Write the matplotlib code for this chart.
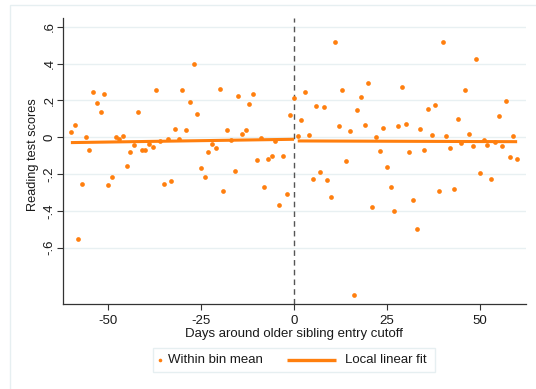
import matplotlib
matplotlib.use("Agg")
import matplotlib.pyplot as plt
from matplotlib.patches import Rectangle
from matplotlib.lines import Line2D

plt.rcParams['font.family'] = ['Liberation Sans', 'DejaVu Sans']

# Days relative to the older sibling's entry cutoff (one bin per day)
days = list(range(-60, 61))

# Within-bin mean reading test scores, days -60 .. 60
bin_means = [
    0.029, 0.069, -0.553, -0.252, 0.000, -0.067, 0.245, 0.188, 0.136, 0.237,   # -60..-51
    -0.258, -0.217, 0.000, -0.011, 0.007, -0.158, -0.082, -0.040, 0.136, -0.069,  # -50..-41
    -0.069, -0.036, -0.054, 0.255, -0.018, -0.256, -0.009, -0.236, 0.045, -0.011,  # -40..-31
    0.255, 0.040, 0.194, 0.398, 0.128, -0.165, -0.217, -0.082, -0.035, -0.058,     # -30..-21
    0.261, -0.292, 0.040, -0.016, -0.181, 0.223, 0.016, 0.038, 0.179, 0.234,       # -20..-11
    -0.125, -0.004, -0.268, -0.120, -0.102, -0.018, -0.366, -0.103, -0.310, 0.121,  # -10..-1
    0.215,                                                                          # 0
    0.007, 0.092, 0.248, 0.013, -0.228, 0.170, -0.189, 0.163, -0.234, -0.326,      # 1..10
    0.520, 0.063, 0.255, -0.130, 0.034, -0.859, 0.148, 0.217, 0.069, 0.295,        # 11..20
    -0.377, 0.003, -0.073, 0.052, -0.163, -0.272, -0.399, 0.060, 0.273, 0.074,     # 21..30
    -0.080, -0.343, -0.497, 0.045, -0.067, 0.156, 0.014, 0.174, -0.294, 0.516,     # 31..40
    0.009, -0.056, -0.279, 0.098, -0.033, 0.257, 0.016, -0.047, 0.425, -0.194,     # 41..50
    -0.015, -0.042, -0.227, -0.027, 0.114, -0.049, 0.196, -0.107, 0.007, -0.116,   # 51..60
]

# Local linear fits on each side of the cutoff
fit_left_x = [-60, 0]
fit_left_y = [-0.029, -0.011]
fit_right_x = [1, 60]
fit_right_y = [-0.020, -0.024]

yticks = [-0.6, -0.4, -0.2, 0.0, 0.2, 0.4, 0.6]
ytick_labels = ['-.6', '-.4', '-.2', '0', '.2', '.4', '.6']
xticks = [-50, -25, 0, 25, 50]
xtick_labels = ['-50', '-25', '0', '25', '50']
legend_labels = ['Within bin mean', 'Local linear fit']

orange = '#ff7f0e'
grid_col = '#e8f0f2'
frame_col = '#e6eff1'
text_col = '#1a1a1a'
fs = 9.5

W, H = 536, 389
fig = plt.figure(figsize=(W / 100, H / 100), dpi=100)
fig.patch.set_facecolor('white')


def fx(px):
    return px / W


def fy(py):
    return 1 - py / H


# light outer graph-region frame
fig.patches.append(Rectangle((fx(10), -0.05), 1.2, fy(5) + 0.05,
                             transform=fig.transFigure, fill=False,
                             edgecolor=frame_col, linewidth=1.0, zorder=0))

ax = fig.add_axes([fx(62.7), fy(304), fx(525.7) - fx(62.7), fy(18) - fy(304)])
ax.set_xlim(-62.2, 62.3)
ax.set_ylim(-0.906, 0.648)

for s in ['top', 'right']:
    ax.spines[s].set_visible(False)
for s in ['left', 'bottom']:
    ax.spines[s].set_color('#333333')
    ax.spines[s].set_linewidth(0.9)

ax.set_yticks(yticks)
ax.set_yticklabels(ytick_labels, rotation=90, va='center')
ax.set_xticks(xticks)
ax.set_xticklabels(xtick_labels)
ax.tick_params(axis='both', length=4, width=0.8, color='#333333', labelsize=fs,
               labelcolor=text_col)
ax.tick_params(axis='x', pad=4)
ax.tick_params(axis='y', pad=1.2)
ax.yaxis.grid(True, color=grid_col, linewidth=1.0)
ax.set_axisbelow(True)

ax.axvline(0, color='#555555', linewidth=1.0, linestyle=(0, (4, 3)), zorder=1)

ax.plot(days, bin_means, linestyle='none', marker='o', markersize=3.4,
        color=orange, markeredgewidth=0, zorder=3)
ax.plot(fit_left_x, fit_left_y, color=orange, linewidth=2.2, zorder=2,
        solid_capstyle='butt')
ax.plot(fit_right_x, fit_right_y, color=orange, linewidth=2.2, zorder=2,
        solid_capstyle='butt')

ax.set_ylabel('Reading test scores', fontsize=9.2, color=text_col, va='center')
ax.yaxis.set_label_coords((33 - 62.7) / (525.7 - 62.7), (304 - 155) / (304 - 18))
ax.set_xlabel('Days around older sibling entry cutoff', fontsize=fs, color=text_col,
              labelpad=1)

# legend box below the plot
fig.patches.append(Rectangle((fx(153.3), fy(371.7)), fx(435) - fx(153.3),
                             fy(348.3) - fy(371.7), transform=fig.transFigure,
                             fill=False, edgecolor=frame_col, linewidth=1.0))
ly = fy(360)
fig.lines.append(Line2D([fx(160)], [ly], transform=fig.transFigure, marker='o',
                        markersize=2.6, color=orange, markeredgewidth=0,
                        linestyle='none'))
fig.text(fx(168.5), ly, legend_labels[0], fontsize=fs, color=text_col,
         va='center', ha='left')
fig.lines.append(Line2D([fx(286.7), fx(336)], [ly, ly], transform=fig.transFigure,
                        color=orange, linewidth=2.4, solid_capstyle='butt'))
fig.text(fx(345), ly, legend_labels[1], fontsize=fs, color=text_col,
         va='center', ha='left')

fig.savefig('out.png', dpi=100)
